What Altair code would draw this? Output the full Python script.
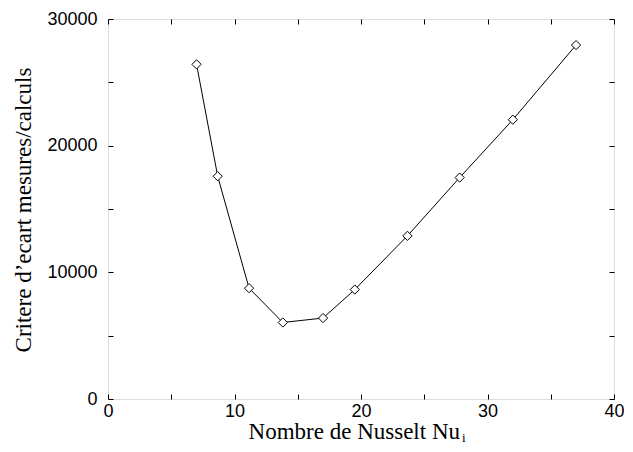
import altair as alt
import pandas as pd

nusselt = [7.0, 8.67, 11.15, 13.82, 17.0, 19.51, 23.67, 27.8, 32.0, 37.0]
critere = [26420, 17590, 8750, 6040, 6390, 8640, 12880, 17480, 22050, 27940]

x_ticks = [0, 5, 10, 15, 20, 25, 30, 35, 40]
y_ticks = [0, 5000, 10000, 15000, 20000, 25000, 30000]

x_title = "Nombre de Nusselt Nu"
x_sub = "i"
y_title = "Critere d\u2019ecart mesures/calculs"

df = pd.DataFrame({"nu": nusselt, "crit": critere})
one = pd.DataFrame({"k": [0]})

W, H = 506, 380
TICK = 5
label_font = "Liberation Sans"
title_font = "Liberation Serif"

xscale = alt.Scale(domain=[0, 40], nice=False, zero=False)
yscale = alt.Scale(domain=[0, 30000], nice=False, zero=False)

axis_common = dict(
    domain=False,
    tickColor="black",
    tickSize=TICK,
    offset=-TICK,
    tickWidth=1,
    labelFont=label_font,
    labelFontSize=18,
    labelColor="black",
    labelFlush=False,
    labelOverlap=False,
    grid=False,
    title="",
)

x_bottom = alt.Axis(orient="bottom", values=x_ticks, labelPadding=3,
                    labelExpr="datum.value % 10 == 0 ? datum.label : ''",
                    **axis_common)
y_left = alt.Axis(orient="left", values=y_ticks, labelPadding=11, format="d",
                  labelExpr="datum.value % 10000 == 0 ? datum.label : ''",
                  **axis_common)
x_top = alt.Axis(orient="top", values=x_ticks, labels=False, **axis_common)
y_right = alt.Axis(orient="right", values=y_ticks, labels=False, **axis_common)

line = alt.Chart(df).mark_line(color="black", strokeWidth=1, clip=False).encode(
    x=alt.X("nu:Q", scale=xscale, axis=x_bottom),
    y=alt.Y("crit:Q", scale=yscale, axis=y_left),
)

points = alt.Chart(df).mark_point(
    shape="diamond", filled=True, fill="white", stroke="black",
    strokeWidth=1, size=85, opacity=1, clip=False
).encode(
    x=alt.X("nu:Q", scale=xscale, axis=x_top),
    y=alt.Y("crit:Q", scale=yscale, axis=y_right),
)

data_layer = alt.layer(line, points).resolve_axis(x="independent", y="independent")

xt = alt.Chart(one).mark_text(
    text=x_title, font=title_font, fontSize=23, align="right",
    baseline="alphabetic", color="black"
).encode(x=alt.value(352), y=alt.value(420))

xs = alt.Chart(one).mark_text(
    text=x_sub, font=title_font, fontSize=13, align="left",
    baseline="alphabetic", color="black"
).encode(x=alt.value(354), y=alt.value(423))

yt = alt.Chart(one).mark_text(
    text=y_title, font=title_font, fontSize=23, align="center",
    baseline="middle", angle=270, color="black"
).encode(x=alt.value(-84), y=alt.value(191))

chart = alt.layer(data_layer, xt, xs, yt).properties(
    width=W, height=H,
    autosize=alt.AutoSizeParams(type="none"),
    padding={"left": 100, "top": 11, "right": 10, "bottom": 45},
).configure_view(stroke="black", strokeWidth=1).configure_axis(
    labelFont=label_font, labelFontSize=18, labelColor="black"
).configure(background="white")

chart.save("out.html", embed_options={"renderer": "svg", "actions": False})
